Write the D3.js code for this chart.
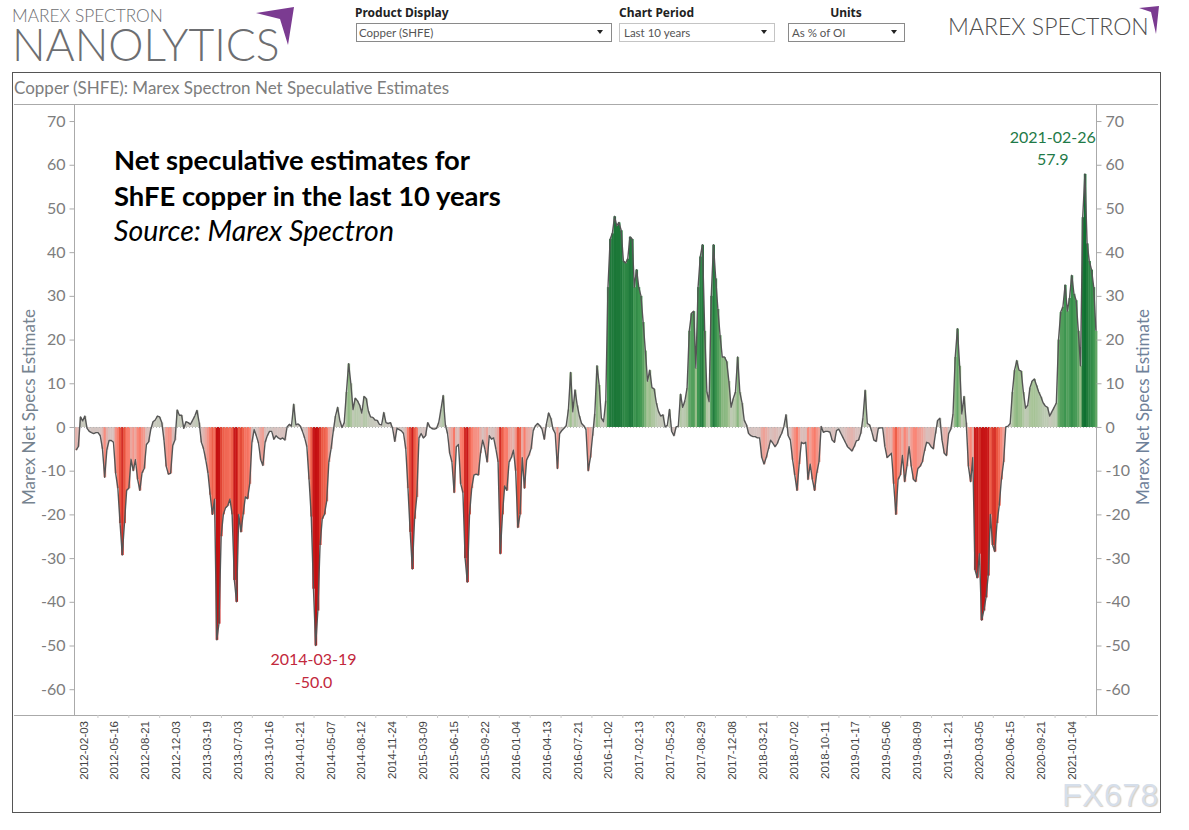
<!DOCTYPE html>
<html>
<head>
<meta charset="utf-8">
<script src="https://cdn.jsdelivr.net/npm/d3@7"></script>
<style>
  html, body { margin: 0; padding: 0; background: #fff; }
  svg { display: block; }
  text { font-family: Lato, "Open Sans", sans-serif; }
</style>
</head>
<body>
<svg id="chart"></svg>
<script>
// tick labels along the bottom
const dateLabels = ["2012-02-03","2012-05-16","2012-08-21","2012-12-03","2013-03-19","2013-07-03","2013-10-16",
  "2014-01-21","2014-05-07","2014-08-12","2014-11-24","2015-03-09","2015-06-15","2015-09-22","2016-01-04",
  "2016-04-13","2016-07-21","2016-11-02","2017-02-13","2017-05-23","2017-08-29","2017-12-08","2018-03-21",
  "2018-07-02","2018-10-11","2019-01-17","2019-05-06","2019-08-09","2019-11-21","2020-03-05","2020-06-15",
  "2020-09-21","2021-01-04"];

const yTicks = [-60,-50,-40,-30,-20,-10,0,10,20,30,40,50,60,70];

// net specs as % of OI, 14 readings per row
const netSpecs = [
  -5.3,-4.5,2.3,1.4,2.5,-0.3,-1,-1.3,-1.5,-1.3,-1.3,-2,-5,-11.5,
  -5.2,-3.1,-3.1,-3.5,-10.6,-14,-22,-29.3,-22,-14.5,-14,-7.4,-10,-7.5,
  -12,-14.5,-10.5,-9.5,-4,-3.4,-0.5,1.2,1.6,2.5,2.3,1,-3,-9,
  -10.8,-10.6,-4.2,-3,3.9,2.7,2.7,-0.3,1.2,1,0.6,1.5,2.5,3.8,
  1,-3.5,-5,-7.5,-10.5,-15.5,-20,-16.5,-48.7,-45,-25,-20,-18.5,-18,
  -16.5,-20,-35,-40,-20,-24,-20,-16,-16.4,-13,-3.5,-0.6,-2,-3.7,
  -7.5,-8.8,-3.5,-2,-1,-1,-2.8,-2,-2.5,-2.8,-2.5,-3,0,0.6,
  0.2,5.2,0.5,0.7,0.2,-1,-2.5,-4.5,-12,-20.5,-37,-50,-42,-27,
  -21,-20,-17,-8,-5,-1,2.5,4.5,1.5,-0.1,1,8,14.5,10,
  4,6.6,6,5,3.2,7,6.5,3.6,2.3,2.2,1.6,1.5,0.6,0.5,
  3.3,1,0.8,1,-0.3,-3.3,-0.3,-0.6,-0.9,-1.5,-5,-14,-24,-32.5,
  -21,-16,-2.5,-1.5,-2.5,-2,1,0,-0.4,-0.5,-0.3,1,4,7.2,
  0.5,-1.5,-6,-8,-15,-4.5,-4,-13,-15,-30,-35.5,-20,-14,-11,
  -10.8,-11,-6,-3,-5,-8,-2,-2.8,-2.5,-5,-8,-29,-20,-13.5,
  -14.5,-8,-7,-5.3,-10,-23,-20,-7,-14,-7.5,-6.5,-5,-0.8,0.3,
  0.8,0.3,-0.5,-2.8,0.7,3.2,2,-0.5,-1.5,-9.5,-1.5,-0.8,-0.3,0.3,
  4,12.5,3.5,8.5,5,2.5,0.8,0.3,-0.6,-10,-7,-2,3,14,
  9.6,2,1.2,6,32,43,44.3,48.2,46,46.8,45,38,37.5,38.5,
  43.5,43,32,36,32,30,24,17.5,10.5,13,9,8.7,5.5,3.5,
  2.5,2.8,0,0.4,4,-1,-2,0,0.2,7.5,4.5,6,9,22,
  26,26.5,13.5,32,39,41.7,22,8,5.8,30,41.7,34,27,21,
  16,16,15,10.5,4.5,6.5,8,16,8,5.5,1.5,0.5,-1.5,-2,
  -2.2,-2.2,-2.5,-2.5,-7,-8.5,-7,-5,-3,-3.7,-4.5,-3.8,-2.5,-1.5,
  0,2.8,-2,-3,-7.5,-11,-14.5,-8.5,-3.5,-3.8,-3.5,-12,-8.5,-12,
  -14.5,-10.5,-8,0.1,-1.2,-1,-1,-1.2,-3,-3.5,-0.8,-0.5,-1.5,-2.5,
  -3.5,-4.5,-5,-5.5,-4.5,-3.2,-3,-1.5,2,8.4,0.8,0.5,-1,-3,
  -3.3,-0.3,-0.2,-0.2,-4.5,-7,-6.5,-6,-13,-20,-12,-11,-6.5,-12.5,
  -9,-4.5,-9,-12,-12.5,-9.5,-9,-8,-5.5,-3.5,-3.7,-4.5,-5,-1.5,
  1.5,2,-3,-6,-6.5,-1.5,-0.5,3,16,22.5,14,3,7,1,
  -9,-12.5,-7,-32.7,-34.5,-29,-44.2,-42,-39,-34,-20,-27,-28.5,-22,
  -18,-12,-8,0,0.2,0.8,8,13,15.2,13,12.8,8,4.3,5,
  9,10.5,11,9.5,8,6.9,5.5,4.8,4.5,2.5,3.5,4.5,5.5,20,
  26.3,27.5,32.5,26.5,29.5,34.7,30.5,29,22,14,48,57.9,42,38,
  36,32,22
];

const colorStops = [-50,-33,-22,-13,-8,-3,0,5,12,22,32,42,58];
const colorRange = ["#c40f10","#cb1a1a","#e9553f","#fb8272","#eda49b","#d8c1be","#cfc8c4",
                    "#bccab2","#a2c291","#63a666","#3d9650","#217b3c","#0f7030"];

const width = 1189, height = 830;
const plot = { left: 75, right: 1097, top: 104, bottom: 715 };
const axisGrey = "#aaaaaa", textGrey = "#7d7d7d";

const svg = d3.select("#chart").attr("width", width).attr("height", height);

// scales
const x = d3.scaleBand().domain(d3.range(netSpecs.length)).range([plot.left, plot.right]);
const y = d3.scaleLinear().domain([-65.9, 73.9]).range([plot.bottom, plot.top]);
const color = d3.scaleLinear().domain(colorStops).range(colorRange);
const xLabels = d3.scalePoint().domain(dateLabels).range([83, 1071]);

// outer frame and header rules
svg.append("rect").attr("x", 12.5).attr("y", 72.5).attr("width", 1148).attr("height", 740)
  .attr("fill", "none").attr("stroke", "#555");
[plot.top, plot.bottom].forEach(v => {
  svg.append("line").attr("x1", 14).attr("x2", 1158).attr("y1", v + 0.5).attr("y2", v + 0.5).attr("stroke", axisGrey);
});
[plot.left, plot.right].forEach(v => {
  svg.append("line").attr("x1", v - 0.5).attr("x2", v - 0.5).attr("y1", plot.top).attr("y2", plot.bottom).attr("stroke", axisGrey);
});

svg.append("text").attr("x", 14).attr("y", 94).attr("font-size", 17).attr("fill", textGrey)
  .text("Copper (SHFE): Marex Spectron Net Speculative Estimates");

// bars
svg.append("g").selectAll("rect").data(netSpecs).join("rect")
  .attr("x", (d, i) => x(i))
  .attr("width", x.bandwidth() + 0.4)
  .attr("y", d => y(Math.max(d, 0)))
  .attr("height", d => Math.abs(y(d) - y(0)))
  .attr("fill", d => color(d));

// dotted zero line
svg.append("line").attr("x1", plot.left).attr("x2", plot.right).attr("y1", y(0) + 0.5).attr("y2", y(0) + 0.5)
  .attr("stroke", "#b5b5b5").attr("stroke-dasharray", "1,2");

// line on top
const line = d3.line().x((d, i) => x(i) + x.bandwidth() / 2).y(d => y(d));
svg.append("path").datum(netSpecs).attr("d", line)
  .attr("fill", "none").attr("stroke", "#555").attr("stroke-width", 1.4).attr("stroke-linejoin", "round");

// y axes, plain hyphen on the negatives like the original
function styleAxis(g) {
  g.select(".domain").remove();
  g.selectAll("line").attr("stroke", axisGrey);
  g.selectAll("text").attr("fill", textGrey).attr("font-size", 16);
}
svg.append("g").attr("transform", `translate(${plot.left - 0.5},0)`)
  .call(d3.axisLeft(y).tickValues(yTicks).tickFormat(d => String(d)).tickSize(5).tickPadding(4))
  .call(styleAxis);
svg.append("g").attr("transform", `translate(${plot.right - 0.5},0)`)
  .call(d3.axisRight(y).tickValues(yTicks).tickFormat(d => String(d)).tickSize(5).tickPadding(4))
  .call(styleAxis);

svg.append("text").attr("transform", "translate(35,407) rotate(-90)").attr("text-anchor", "middle")
  .attr("font-size", 17).attr("fill", "#76838f").text("Marex Net Specs Estimate");
svg.append("text").attr("transform", "translate(1149,407) rotate(-90)").attr("text-anchor", "middle")
  .attr("font-size", 17).attr("fill", "#6f8199").text("Marex Net Specs Estimate");

// x axis, labels rotated, tick marks sit between labels
const xAxis = svg.append("g").attr("transform", `translate(0,${plot.bottom})`)
  .call(d3.axisBottom(xLabels).tickSize(0).tickPadding(0));
xAxis.select(".domain").remove();
xAxis.selectAll("text")
  .attr("transform", "rotate(-90)")
  .attr("x", -6).attr("y", 0).attr("dy", "0.35em")
  .attr("text-anchor", "end")
  .style("font-family", "'Liberation Sans', Arial, sans-serif")
  .attr("font-size", 11.5).attr("fill", "#444");
svg.append("g").selectAll("line").data(dateLabels).join("line")
  .attr("x1", d => xLabels(d) + xLabels.step() / 2 - 0.5)
  .attr("x2", d => xLabels(d) + xLabels.step() / 2 - 0.5)
  .attr("y1", plot.bottom).attr("y2", plot.bottom + 3)
  .attr("stroke", "#cccccc");

// min and max annotations
const maxAt = d3.greatestIndex(netSpecs), minAt = d3.leastIndex(netSpecs);
function note(i, lines, fill, baselines) {
  lines.forEach((t, k) => {
    svg.append("text").attr("x", x(i) + (i === maxAt ? -31 : -1)).attr("y", baselines[k])
      .attr("text-anchor", "middle").attr("font-size", 16).attr("fill", fill).text(t);
  });
}
note(maxAt, ["2021-02-26", netSpecs[maxAt].toFixed(1)], "#1f7a48", [143, 165]);
note(minAt, ["2014-03-19", netSpecs[minAt].toFixed(1)], "#c2283c", [665, 688]);

// pasted headline
svg.append("text").attr("x", 114).attr("y", 170).attr("font-size", 27.4).attr("font-weight", 700).attr("fill", "#000")
  .text("Net speculative estimates for");
svg.append("text").attr("x", 114).attr("y", 206).attr("font-size", 27.4).attr("font-weight", 700).attr("fill", "#000")
  .text("ShFE copper in the last 10 years");
svg.append("text").attr("x", 114).attr("y", 241).attr("font-size", 28.5).attr("font-style", "italic").attr("fill", "#000")
  .text("Source: Marex Spectron");

// logos
svg.append("text").attr("x", 12).attr("y", 22).attr("font-size", 17.3).attr("font-weight", 300).attr("fill", "#6d6e71")
  .text("MAREX SPECTRON");
svg.append("text").attr("x", 12).attr("y", 60.5).attr("font-size", 44.5).attr("font-weight", 300).attr("fill", "#6d6e71")
  .text("NANOLYTICS");
svg.append("polygon").attr("points", "256,13 294,7 288,45 280,19").attr("fill", "#7b3b91");
svg.append("text").attr("x", 948).attr("y", 35).attr("font-size", 23).attr("font-weight", 300).attr("fill", "#4f4f4f")
  .text("MAREX SPECTRON");
svg.append("polygon").attr("points", "1139,8 1159,6 1156,34 1151,12").attr("fill", "#7b3b91");

// filter controls
const controls = [
  { title: "Product Display", value: "Copper (SHFE)", x: 356, w: 255, titleX: 355, anchor: "start", border: "#8a8a8a", arrow: 597, textX: 359 },
  { title: "Chart Period", value: "Last 10 years", x: 619, w: 155, titleX: 619, anchor: "start", border: "#c4c4c4", arrow: 761, textX: 624 },
  { title: "Units", value: "As % of OI", x: 788, w: 116, titleX: 846, anchor: "middle", border: "#8a8a8a", arrow: 891, textX: 792 }
];
controls.forEach(c => {
  svg.append("text").attr("x", c.titleX).attr("y", 17).attr("text-anchor", c.anchor)
    .style("font-family", "'Noto Sans', sans-serif").attr("font-size", 12).attr("font-weight", 700).attr("fill", "#222").text(c.title);
  svg.append("rect").attr("x", c.x + 0.5).attr("y", 23.5).attr("width", c.w).attr("height", 18)
    .attr("fill", "#fff").attr("stroke", c.border);
  svg.append("text").attr("x", c.textX).attr("y", 36.5).attr("font-size", 11.5).attr("fill", "#555").text(c.value);
  svg.append("path").attr("d", `M${c.arrow},30 h6 l-3,4 z`).attr("fill", "#222");
});

// watermark
svg.append("text").attr("x", 1062).attr("y", 806).attr("font-size", 32).attr("letter-spacing", 0.5)
  .style("font-family", "'Liberation Sans', Arial, sans-serif")
  .style("text-shadow", "1px 1px 1px #d8d0c8")
  .attr("fill", "#d6dfeb").text("FX678");
</script>
</body>
</html>
